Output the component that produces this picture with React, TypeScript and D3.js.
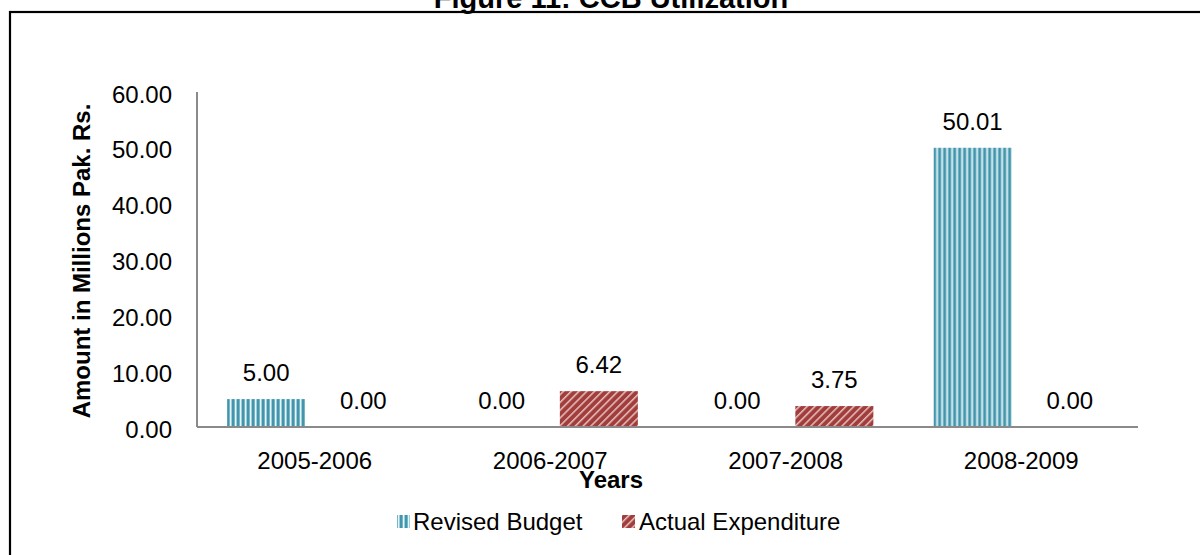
import React from "react";
import * as d3 from "d3";

// Fiscal years on the category axis
const years = ["2005-2006", "2006-2007", "2007-2008", "2008-2009"];
// Series names
const seriesNames = ["Revised Budget", "Actual Expenditure"];
// Amounts in millions of Pak. Rs.
const revisedBudget = [5.0, 0.0, 0.0, 50.01];
const actualExpenditure = [0.0, 6.42, 3.75, 0.0];
// Value axis ticks
const yTicks = [0, 10, 20, 30, 40, 50, 60];

const W = 1200;
const H = 555;
const FONT = "'Liberation Sans', Arial, Helvetica, sans-serif";

export default function App() {
  const plotLeft = 197;
  const plotRight = 1139;
  const plotTop = 92;
  const plotBottom = 427;

  const x0 = d3.scaleBand<string>().domain(years).range([plotLeft, plotRight]).padding(0);
  const half = x0.bandwidth() / 2;
  const x1 = d3
    .scaleBand<string>()
    .domain(seriesNames)
    .range([half - 87.6, half + 87.6])
    .paddingInner(0.1975)
    .paddingOuter(0);
  const y = d3.scaleLinear().domain([0, 60]).range([plotBottom, plotTop]);
  const fmt = d3.format(".2f");

  const rows = years.map((yr, i) => ({
    year: yr,
    values: [
      { key: seriesNames[0], v: revisedBudget[i] },
      { key: seriesNames[1], v: actualExpenditure[i] },
    ],
  }));
  const fills: Record<string, string> = {
    [seriesNames[0]]: "url(#stripeTeal)",
    [seriesNames[1]]: "url(#hatchRed)",
  };

  return (
    <svg
      width={W}
      height={H}
      viewBox={`0 0 ${W} ${H}`}
      style={{ position: "absolute", left: 0, top: 0, background: "#fff" }}
      fontFamily={FONT}
    >
      <defs>
        <pattern id="stripeTeal" patternUnits="userSpaceOnUse" width={5} height={10}>
          <rect width={5} height={10} fill="#9ccdda" />
          <rect x={0} width={2} height={10} fill="#4395ab" />
          <rect x={2} width={1} height={10} fill="#78b5c6" />
          <rect x={3} width={1} height={10} fill="#e8f4f7" />
        </pattern>
        <pattern
          id="hatchRed"
          patternUnits="userSpaceOnUse"
          width={5.5}
          height={5.5}
          patternTransform="rotate(45)"
        >
          <rect width={5.5} height={5.5} fill="#a13e3c" />
          <rect x={0} width={1.5} height={5.5} fill="#e6c0bf" />
        </pattern>
      </defs>

      <rect x={0} y={0} width={W} height={H} fill="#fff" />

      {/* title, partly above the frame */}
      <text x={611} y={8} textAnchor="middle" fontSize={29} fontWeight="bold" fill="#000">
        Figure 11: CCB Utilization
      </text>

      {/* frame */}
      <rect x={10} y={12} width={W + 20} height={H + 20} fill="none" stroke="#000" strokeWidth={2.2} />

      {/* y tick labels */}
      {yTicks.map((t) => (
        <text
          key={t}
          x={172}
          y={y(t) + 2}
          textAnchor="end"
          dominantBaseline="central"
          fontSize={24}
          fill="#000"
        >
          {fmt(t)}
        </text>
      ))}

      {/* bars */}
      {rows.map((r) => (
        <g key={r.year} transform={`translate(${x0(r.year)},0)`}>
          {r.values.map((d) => (
            <rect
              key={d.key}
              x={x1(d.key)}
              y={y(d.v)}
              width={x1.bandwidth()}
              height={plotBottom - y(d.v)}
              fill={fills[d.key]}
            />
          ))}
          {r.values.map((d) => (
            <text
              key={d.key + "-lbl"}
              x={(x1(d.key) as number) + x1.bandwidth() / 2}
              y={y(d.v) - 18}
              textAnchor="middle"
              fontSize={24}
              fill="#000"
            >
              {fmt(d.v)}
            </text>
          ))}
        </g>
      ))}

      {/* axes */}
      <line x1={plotLeft} x2={plotLeft} y1={plotTop} y2={plotBottom} stroke="#8a8a8a" strokeWidth={2} />
      <line x1={plotLeft} x2={plotRight - 1} y1={plotBottom} y2={plotBottom} stroke="#8a8a8a" strokeWidth={2} />

      {/* category labels */}
      {years.map((yr) => (
        <text
          key={yr}
          x={(x0(yr) as number) + half}
          y={469}
          textAnchor="middle"
          fontSize={24}
          fill="#000"
        >
          {yr}
        </text>
      ))}

      {/* axis titles */}
      <text x={611} y={488} textAnchor="middle" fontSize={24} fontWeight="bold" fill="#000">
        Years
      </text>
      <text
        transform={`translate(90,261) rotate(-90)`}
        textAnchor="middle"
        fontSize={24}
        fontWeight="bold"
        fill="#000"
      >
        Amount in Millions Pak. Rs.
      </text>

      {/* legend */}
      <g>
        <rect x={397} y={515} width={13} height={13} fill="url(#stripeTeal)" />
        <text x={413} y={530} fontSize={24} fill="#000">
          {seriesNames[0]}
        </text>
        <rect x={622} y={515} width={13} height={13} fill="url(#hatchRed)" />
        <text x={639} y={530} fontSize={24} fill="#000">
          {seriesNames[1]}
        </text>
      </g>
    </svg>
  );
}
